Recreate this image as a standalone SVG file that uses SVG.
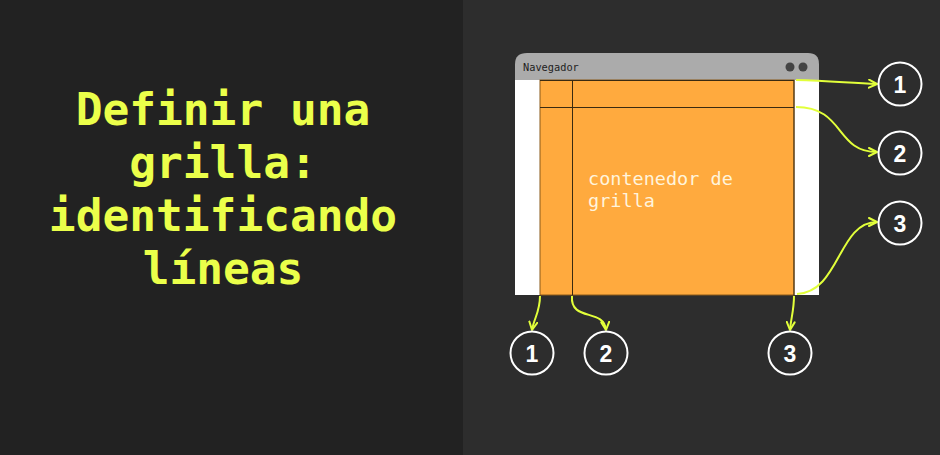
<svg xmlns="http://www.w3.org/2000/svg" width="940" height="455" viewBox="0 0 940 455">
<defs>
<style>
.title{font-family:"DejaVu Sans Mono","Liberation Mono",monospace;font-weight:bold;font-size:44.5px;fill:#ebff4a;text-anchor:middle}
.conn{fill:none;stroke:#e2ff3a;stroke-width:2;marker-end:url(#ah)}
.circ{fill:none;stroke:#ffffff;stroke-width:2}
.num{font-family:"Liberation Sans",Arial,sans-serif;font-weight:bold;font-size:23px;fill:#ffffff;text-anchor:middle}
.grid{stroke:#3a2a10;stroke-width:1}
.lbl{font-family:"DejaVu Sans Mono","Liberation Mono",monospace;font-size:18.5px;fill:#fff4dc}
</style>
<marker id="ah" viewBox="0 0 10 10" refX="9" refY="5" markerWidth="10" markerHeight="10" markerUnits="userSpaceOnUse" orient="auto">
<path d="M1,1 L9,5 L1,9" fill="none" stroke="#e2ff3a" stroke-width="2" stroke-linejoin="round" stroke-linecap="round"/>
</marker>
</defs>
<rect x="0" y="0" width="463" height="455" fill="#222222"/>
<rect x="463" y="0" width="477" height="455" fill="#2d2d2d"/>
<g id="title">
<text class="title" x="223" y="125">Definir una</text>
<text class="title" x="223" y="178">grilla:</text>
<text class="title" x="223" y="231">identificando</text>
<text class="title" x="223" y="284">líneas</text>
</g>
<g id="browser">
<path d="M515,80 L515,64 Q515,53 527,53 L808,53 Q819,53 819,64 L819,80 Z" fill="#ababab"/>
<rect x="515" y="80" width="304" height="215" fill="#ffffff"/>
<text x="523" y="71" font-family="'DejaVu Sans Mono','Liberation Mono',monospace" font-size="10.3" fill="#1e1e1e">Navegador</text>
<circle cx="790" cy="67" r="4.5" fill="#444444"/>
<circle cx="803" cy="67" r="4.5" fill="#444444"/>
</g>
<g id="grid-container">
<rect x="540" y="80" width="254" height="215" fill="#ffaa3e" stroke="#8a5a1a" stroke-width="1"/>
<line class="grid" x1="540" y1="107.5" x2="794" y2="107.5"/>
<line class="grid" x1="572.5" y1="80" x2="572.5" y2="295"/>
<line class="grid" x1="540" y1="80.5" x2="794" y2="80.5"/>
<line class="grid" x1="794" y1="80" x2="794" y2="295"/>
<text class="lbl" x="588" y="185">contenedor de</text>
<text class="lbl" x="588" y="207">grilla</text>
</g>
<g id="connectors">
<path class="conn" d="M796,80 C830,81 850,83 877,84"/>
<path class="conn" d="M796,107 C845,107 835,152 877,152"/>
<path class="conn" d="M797,294 C840,292 838,222 877,222"/>
<path class="conn" d="M540,296 C540,312 534,318 532,330"/>
<path class="conn" d="M572,296 C570,322 604,308 606,330"/>
<path class="conn" d="M794,296 C794,310 791,318 790,330"/>
</g>
<g id="r1"><circle class="circ" cx="900" cy="84" r="21.5"/><text class="num" x="900" y="92.5">1</text></g>
<g id="r2"><circle class="circ" cx="900" cy="153" r="21.5"/><text class="num" x="900" y="161.5">2</text></g>
<g id="r3"><circle class="circ" cx="900" cy="223" r="21.5"/><text class="num" x="900" y="231.5">3</text></g>
<g id="c1"><circle class="circ" cx="532" cy="353" r="21.5"/><text class="num" x="532" y="361.5">1</text></g>
<g id="c2"><circle class="circ" cx="606" cy="353" r="21.5"/><text class="num" x="606" y="361.5">2</text></g>
<g id="c3"><circle class="circ" cx="790" cy="353" r="21.5"/><text class="num" x="790" y="361.5">3</text></g>
</svg>
